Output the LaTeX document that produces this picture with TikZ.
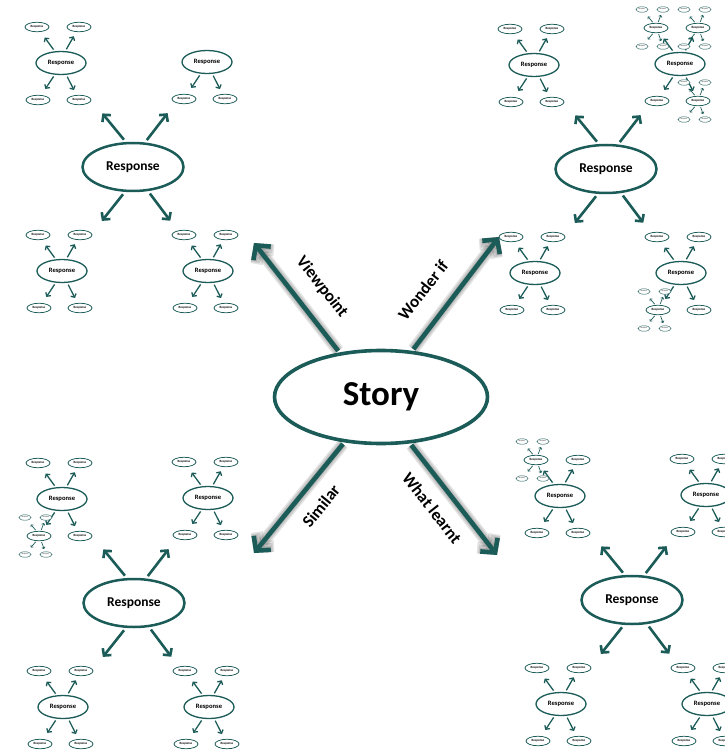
\documentclass[tikz,border=0pt]{standalone}
\usepackage{fontspec}
\setmainfont{Carlito}
\usetikzlibrary{shapes.geometric,arrows.meta,calc}
\definecolor{tealdark}{RGB}{28,92,88}

% L1 hub -> L2 child: hub, tag, dx, dy, anchor angle on hub
\newcommand\kidB[5]{%
  \node[hubB] (#1#2) at ($(#1)+(#3,#4)$) {Response};
  \draw[arrA] ($(#1.#5)!3pt!(#1#2)$) -- ($(#1.#5)!37pt!(#1#2)$);}
% L2 hub -> L3 child
\newcommand\kidC[5]{%
  \node[nodeC] (#1#2) at ($(#1)+(#3,#4)$) {Response};
  \draw[arrB] ($(#1.#5)!2pt!(#1#2)$) -- ($(#1.#5)!17pt!(#1#2)$);}
% L3 hub -> L4 child
\newcommand\kidD[5]{%
  \node[nodeD] (#1#2) at ($(#1)+(#3,#4)$) {Response};
  \draw[arrC] ($(#1.#5)!1pt!(#1#2)$) -- ($(#1.#5)!8.5pt!(#1#2)$);}
\newcommand\ulC[1]{\kidC{#1}{ul}{-24}{-36}{118}}
\newcommand\urC[1]{\kidC{#1}{ur}{18}{-36}{70}}
\newcommand\dlC[1]{\kidC{#1}{dl}{-23}{37}{-118}}
\newcommand\drC[1]{\kidC{#1}{dr}{18}{37}{-66}}
\newcommand\fourC[1]{\ulC{#1}\urC{#1}\dlC{#1}\drC{#1}}
\newcommand\fourD[1]{%
  \kidD{#1}{ul}{-14}{-18.5}{118}\kidD{#1}{ur}{7}{-18.5}{70}%
  \kidD{#1}{dl}{-14}{18.5}{-118}\kidD{#1}{dr}{7}{18.5}{-66}}
% the four L2 children around an L1 hub
\newcommand\kidsB[1]{%
  \kidB{#1}{ul}{-72}{-104}{106}\kidB{#1}{ur}{74}{-105}{64}%
  \kidB{#1}{dl}{-71}{104}{-108}\kidB{#1}{dr}{75}{104}{-58}}

\begin{document}
\begin{tikzpicture}[x=1pt,y=-1pt,
  bubble/.style={ellipse, draw=tealdark, fill=white, inner sep=0pt, text=black},
  storynode/.style={bubble, line width=3.6pt, minimum width=213pt, minimum height=93pt, font=\fontsize{35}{35}\selectfont\bfseries},
  hubA/.style={bubble, line width=2.5pt, minimum width=101pt, minimum height=48pt, font=\fontsize{13.5}{14}\selectfont\bfseries},
  hubB/.style={bubble, line width=1.3pt, minimum width=50pt, minimum height=23pt, font=\fontsize{6.6}{7}\selectfont\bfseries},
  nodeC/.style={bubble, line width=0.75pt, minimum width=24pt, minimum height=9.5pt, font=\fontsize{3.2}{3.5}\selectfont\bfseries},
  nodeD/.style={bubble, line width=0.45pt, minimum width=12pt, minimum height=5.5pt, font=\fontsize{1.6}{1.8}\selectfont},
  bigarrow/.style={draw=tealdark, line width=4.6pt, -{Straight Barb[length=10pt,width=22pt]}},
  bigshade/.style={draw=black, opacity=0.11, shift={(2.5,2.5)}, -{Straight Barb[length=10pt,width=22pt]}},
  arrA/.style={draw=tealdark, line width=2.6pt, -{Straight Barb[length=5pt,width=11pt]}},
  arrB/.style={draw=tealdark, line width=1.3pt, -{Straight Barb[length=2.7pt,width=6pt]}},
  arrC/.style={draw=tealdark, line width=0.7pt, -{Straight Barb[length=1.5pt,width=3.3pt]}},
  tag/.style={font=\fontsize{17}{17}\selectfont\bfseries, inner sep=0pt}]
\useasboundingbox (0,0) rectangle (724,751);
\fill[white] (0,0) rectangle (724,751);

% centre
\node[storynode] (story) at (381,397) {Story};
\coordinate (vpEnd) at (254,243);
\coordinate (wiEnd) at (499,237);
\coordinate (siEnd) at (254,553);
\coordinate (wlEnd) at (497,555);
\foreach \w in {12,9,6} {
  \draw[bigshade, line width=\w pt] ($(story.133)!2pt!(vpEnd)$) -- (vpEnd);
  \draw[bigshade, line width=\w pt] ($(story.56)!2pt!(wiEnd)$) -- (wiEnd);
  \draw[bigshade, line width=\w pt] ($(story.-129)!2pt!(siEnd)$) -- (siEnd);
  \draw[bigshade, line width=\w pt] ($(story.-58)!2pt!(wlEnd)$) -- (wlEnd);
}
\draw[bigarrow] ($(story.133)!2pt!(vpEnd)$) -- (vpEnd);
\draw[bigarrow] ($(story.56)!2pt!(wiEnd)$) -- (wiEnd);
\draw[bigarrow] ($(story.-129)!2pt!(siEnd)$) -- (siEnd);
\draw[bigarrow] ($(story.-58)!2pt!(wlEnd)$) -- (wlEnd);
\node[tag, rotate=-52] (vpText) at (322,287) {Viewpoint};
\node[tag, rotate=52] (wiText) at (423,290) {Wonder if};
\node[tag, rotate=51] (siText) at (321,506) {Similar};
\node[tag, rotate=-52] (wlText) at (432,508) {What learnt};

% Viewpoint cluster
\node[hubA] (vp) at (133,167) {Response};
\kidsB{vp}
\fourC{vpul}
\dlC{vpur}\drC{vpur}
\fourC{vpdl}
\fourC{vpdr}

% Wonder if cluster
\node[hubA] (wi) at (606,169) {Response};
\kidsB{wi}
\fourC{wiul}
\fourC{wiur}
\fourD{wiurul}\fourD{wiurur}\fourD{wiurdr}
\fourC{widl}
\fourC{widr}
\fourD{widrdl}

% Similar cluster
\node[hubA] (si) at (134,603) {Response};
\kidsB{si}
\fourC{siul}
\fourD{siuldl}
\fourC{siur}
\fourC{sidl}
\fourC{sidr}

% What learnt cluster
\node[hubA] (wl) at (632,600) {Response};
\kidsB{wl}
\fourC{wlul}
\fourD{wlulul}
\fourC{wlur}
\fourC{wldl}
\fourC{wldr}
\end{tikzpicture}
\end{document}
